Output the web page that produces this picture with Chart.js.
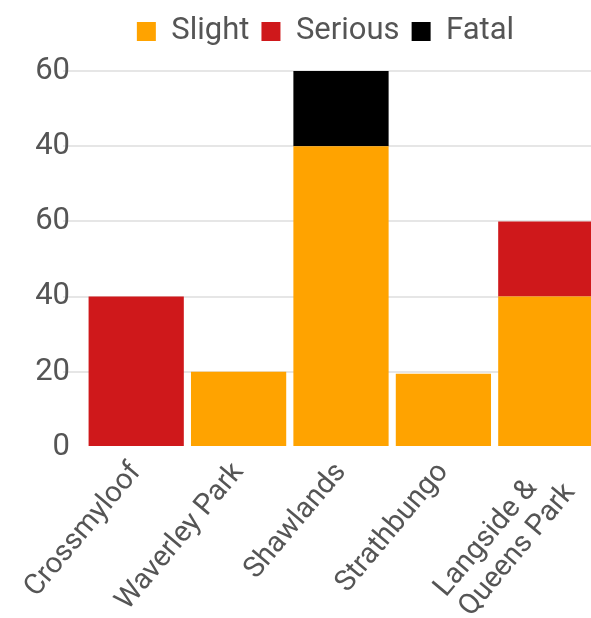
<!DOCTYPE html>
<html>
<head>
<meta charset="utf-8">
<script src="https://cdn.jsdelivr.net/npm/chart.js@4"></script>
<style>
  html, body { margin: 0; padding: 0; background: #fff; }
  #wrap { width: 591px; height: 618px; overflow: hidden; }
</style>
</head>
<body>
<div id="wrap"><canvas id="chart"></canvas></div>
<script>
const areas = ['Crossmyloof', 'Waverley Park', 'Shawlands', 'Strathbungo', ['Langside &\u00a0\u00a0\u00a0', 'Queens Park']];
const slight = [0, 20, 80, 19.5, 40];
const serious = [40, 0, 0, 0, 20];
const fatal = [0, 0, 20, 0, 0];
const yTickValues = [0, 20, 40, 60, 80, 100];
const yTickLabels = ['0', '20', '40', '60', '40', '60'];

const textColor = '#555555';
const fontFamily = 'Roboto, "Noto Sans", sans-serif';
const bleedRight = 6; // plot runs slightly past the right edge

// more room under the legend, legend centred over the plot area,
// and the plot stretched to bleed off the right side
const layoutTweak = {
  id: 'layoutTweak',
  beforeInit(chart) {
    const fit = chart.legend.fit;
    chart.legend.fit = function () {
      fit.bind(chart.legend)();
      this.height += 14;
    };
  },
  afterLayout(chart) {
    chart.legend.left += 30;
    chart.legend.right += 30;
    const x = chart.scales.x;
    x.right += bleedRight;
    x.width += bleedRight;
    x.configure();
    chart.chartArea.right += bleedRight;
    chart.chartArea.width += bleedRight;
  }
};

new Chart(document.getElementById('chart'), {
  type: 'bar',
  data: {
    labels: areas,
    datasets: [
      { label: 'Slight', data: slight, backgroundColor: '#FFA300' },
      { label: 'Serious', data: serious, backgroundColor: '#CF181B' },
      { label: 'Fatal', data: fatal, backgroundColor: '#000000' }
    ]
  },
  plugins: [layoutTweak],
  options: {
    responsive: true,
    maintainAspectRatio: false,
    animation: false,
    layout: { padding: { left: 0, right: 0, top: 4, bottom: 0 } },
    datasets: {
      bar: { barPercentage: 0.93, categoryPercentage: 1, borderWidth: 0 }
    },
    plugins: {
      tooltip: { enabled: false },
      legend: {
        position: 'top',
        labels: {
          boxWidth: 19,
          boxHeight: 19,
          padding: 12,
          color: textColor,
          font: { family: fontFamily, size: 31 }
        }
      }
    },
    scales: {
      x: {
        stacked: true,
        grid: { display: false },
        border: { display: false },
        afterFit: axis => {
          axis.height = 171;
          axis.paddingRight = 0;
        },
        ticks: {
          color: textColor,
          font: { family: fontFamily, size: 29, lineHeight: 1.1 },
          minRotation: 50,
          maxRotation: 50,
          padding: 2
        }
      },
      y: {
        stacked: true,
        min: 0,
        max: 100,
        border: { display: false },
        afterFit: axis => { axis.width = 85; },
        grid: {
          color: ctx => (ctx.tick && ctx.tick.value === 0) ? 'rgba(0,0,0,0)' : '#e6e6e6',
          lineWidth: 2,
          drawTicks: true,
          tickLength: 22
        },
        afterBuildTicks: axis => { axis.ticks = yTickValues.map(v => ({ value: v })); },
        ticks: {
          color: textColor,
          font: { family: fontFamily, size: 31 },
          padding: -7,
          callback: (value, i) => yTickLabels[i]
        }
      }
    }
  }
});
</script>
</body>
</html>
